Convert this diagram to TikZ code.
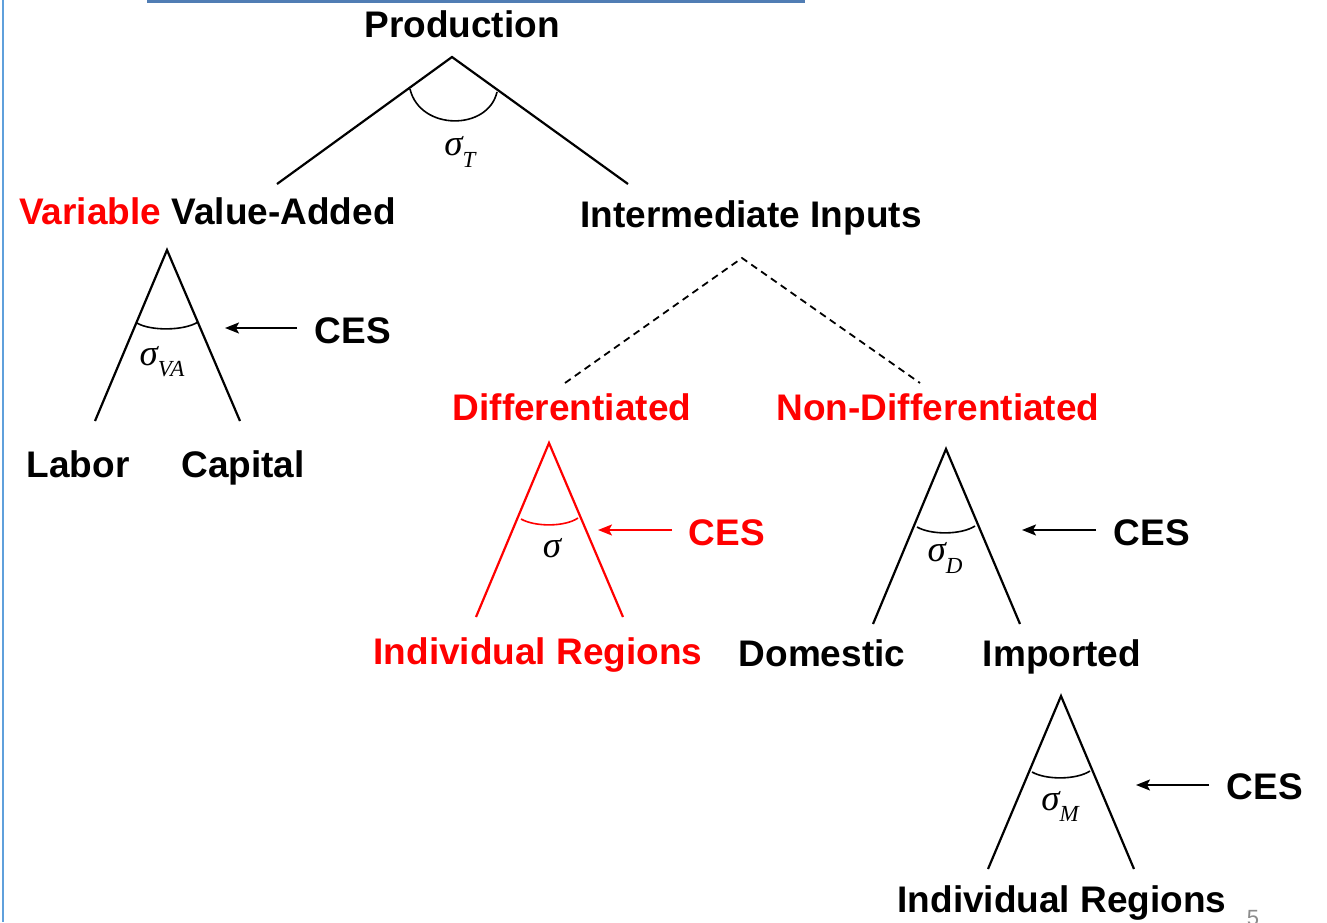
\documentclass[tikz,border=0pt]{standalone}
\usepackage{fontspec}
\setmainfont{Liberation Sans}
\newfontfamily\serfont{Liberation Serif}
\usetikzlibrary{arrows.meta}
\definecolor{barblue}{RGB}{80,125,180}
\definecolor{edgeblue}{RGB}{95,160,220}
\definecolor{pagegray}{RGB}{140,140,140}
\newcommand{\sig}[1]{{\serfont\itshape σ\raisebox{-0.3em}{\fontsize{23}{23}\selectfont #1}}}
\tikzset{
  lbl/.style={font=\fontsize{37}{37}\selectfont\bfseries, inner sep=0pt, anchor=base},
  redlbl/.style={lbl, text=red},
  sg/.style={font=\fontsize{37}{37}\selectfont, inner sep=0pt, anchor=center},
  leg/.style={line width=2.2pt},
  arcl/.style={line width=1.6pt},
  dashline/.style={line width=1.8pt, dash pattern=on 7pt off 5pt},
  cesarrow/.style={line width=2pt, -{Stealth[length=14pt,width=11pt,inset=3pt]}},
}
\begin{document}
\begin{tikzpicture}[x=1pt,y=-1pt]
\useasboundingbox (0,0) rectangle (1327,922);
\fill[white] (0,0) rectangle (1327,922);
% frame decorations
\fill[barblue] (147,0) rectangle (805,3);
\draw[edgeblue, line width=2pt] (2.5,0) -- (2.5,922);
\node[font=\fontsize{22}{22}\selectfont, text=pagegray, anchor=north, inner sep=0pt] (pg) at (1253,910) {5};

% labels (anchored at baseline)
\node[lbl] (prod) at (462,37) {Production};
\node[lbl] (va) at (207.5,224.5) {\textcolor{red}{Variable} Value-Added};
\node[lbl] (ii) at (751,227) {Intermediate Inputs};
\node[lbl] (labor) at (78,477) {Labor};
\node[lbl] (capital) at (243,477) {Capital};
\node[redlbl] (diff) at (572,420.5) {Differentiated};
\node[redlbl] (ndiff) at (938,420.5) {Non-Differentiated};
\node[redlbl] (ir1) at (538,664) {Individual Regions};
\node[lbl] (dom) at (822,666.5) {Domestic};
\node[lbl] (imp) at (1062,666.5) {Imported};
\node[lbl] (ir2) at (1062,912) {Individual Regions};

% CES labels
\node[lbl] (ces1) at (353,343.5) {CES};
\node[redlbl] (ces2) at (727,545.5) {CES};
\node[lbl] (ces3) at (1152,545.5) {CES};
\node[lbl] (ces4) at (1265,799.5) {CES};

% sigma labels
\node[sg] (sT) at (460,152) {\sig{T}};
\node[sg] (sVA) at (162,362) {\sig{VA}};
\node[sg, text=black] (sR) at (552,548) {{\serfont\itshape σ}};
\node[sg] (sD) at (945,558) {\sig{D}};
\node[sg] (sM) at (1060,806) {\sig{M}};

% top tent
\coordinate (tA) at (452,57);
\coordinate (tL) at (277,184);
\coordinate (tR) at (628,184);
\draw[leg] (tL) -- (tA) -- (tR);
\draw[arcl] (410,89) .. controls (420,131) and (488,131) .. (497,92);

% value-added triangle
\coordinate (vA) at (167,250);
\coordinate (vL) at (95,421);
\coordinate (vR) at (240,421);
\draw[leg] (vL) -- (vA) -- (vR);
\draw[arcl] (137,323) .. controls (150,331) and (184,331) .. (198,322);
\coordinate (a1) at (225,328);
\draw[cesarrow] (297,328) -- (a1);

% dashed tent
\coordinate (dA) at (742,258);
\coordinate (dL) at (565,383);
\coordinate (dR) at (920,383);
\draw[dashline] (dL) -- (dA) -- (dR);

% differentiated triangle (red)
\coordinate (rA) at (549,443);
\coordinate (rL) at (476,617);
\coordinate (rR) at (623,617);
\draw[leg, red] (rL) -- (rA) -- (rR);
\draw[arcl, red] (521,519) .. controls (535,527) and (565,527) .. (578,518);
\coordinate (a2) at (598,530);
\draw[cesarrow, red] (672,530) -- (a2);

% domestic / imported triangle
\coordinate (nA) at (946,449);
\coordinate (nL) at (873,624);
\coordinate (nR) at (1020,624);
\draw[leg] (nL) -- (nA) -- (nR);
\draw[arcl] (917,527) .. controls (931,535) and (961,535) .. (975,526);
\coordinate (a3) at (1022,530);
\draw[cesarrow] (1096,530) -- (a3);

% imported triangle
\coordinate (mA) at (1061,696);
\coordinate (mL) at (988,869);
\coordinate (mR) at (1134,869);
\draw[leg] (mL) -- (mA) -- (mR);
\draw[arcl] (1032,772) .. controls (1046,780) and (1076,780) .. (1090,771);
\coordinate (a4) at (1136,785);
\draw[cesarrow] (1209,785) -- (a4);
\end{tikzpicture}
\end{document}
